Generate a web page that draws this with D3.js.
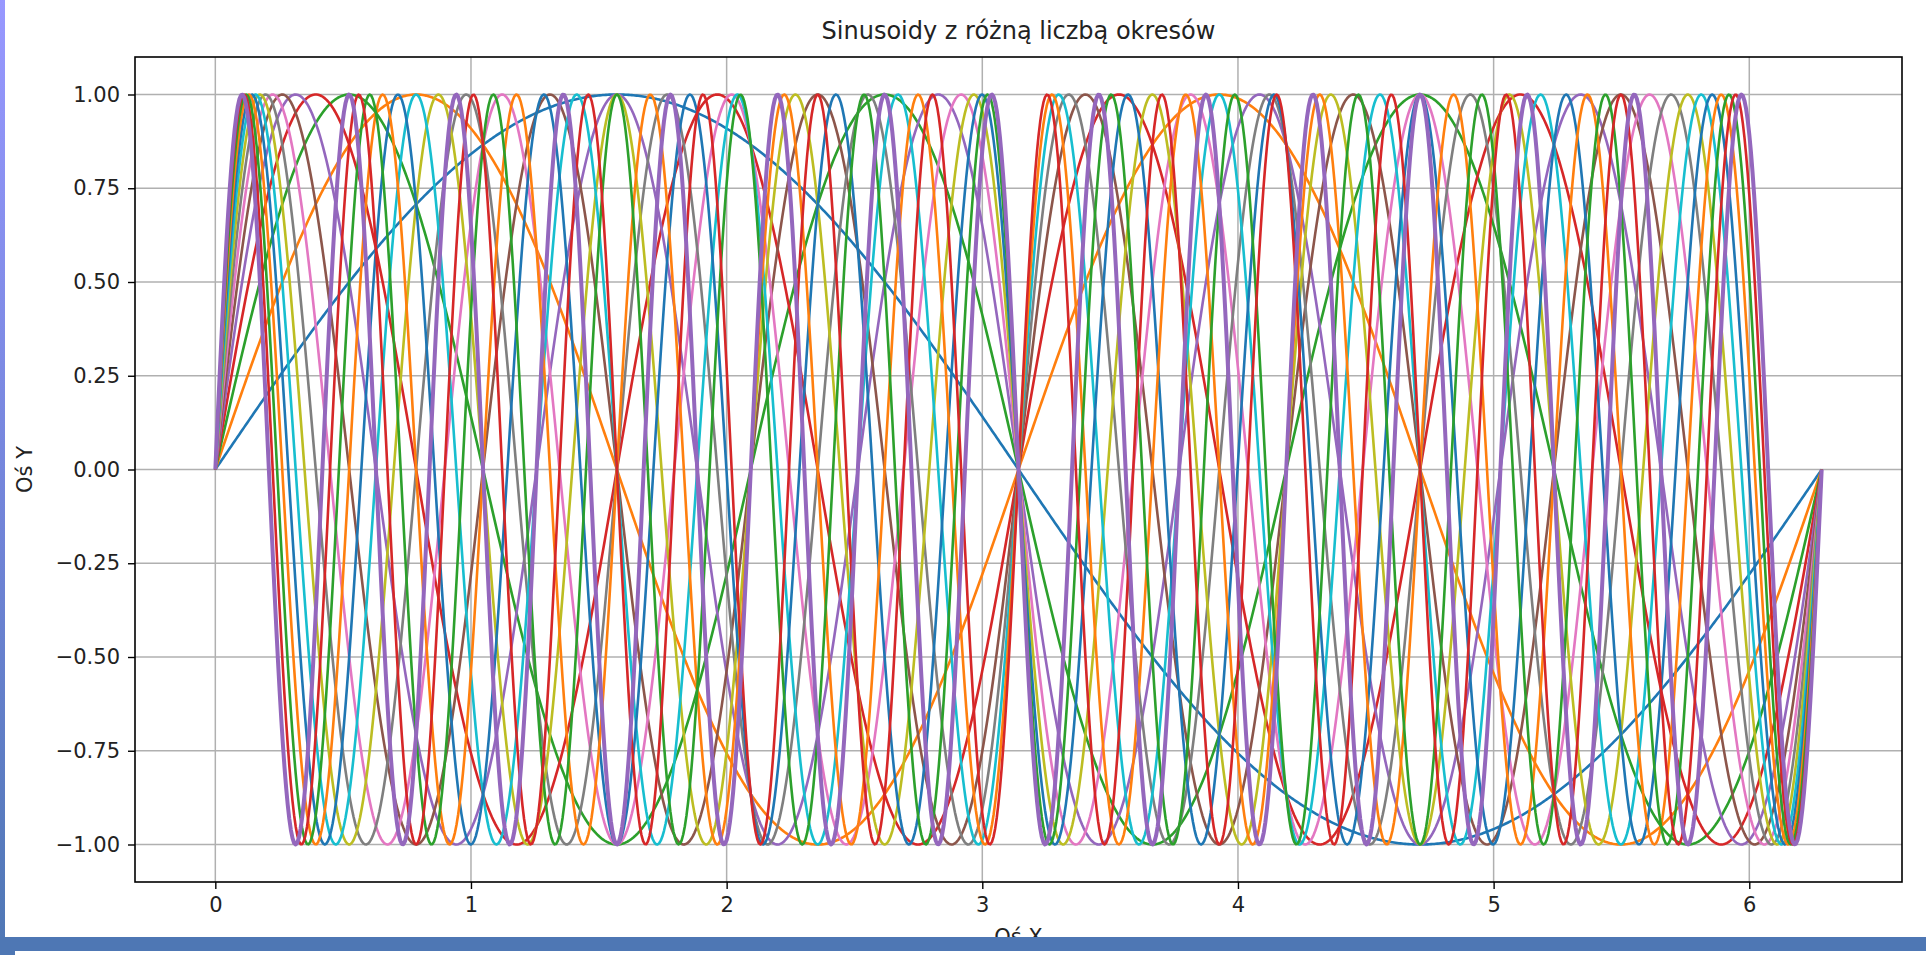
<!DOCTYPE html>
<html>
<head>
<meta charset="utf-8">
<script src="https://cdn.jsdelivr.net/npm/d3@7"></script>
<style>
  html, body { margin: 0; padding: 0; background: #fff; }
  svg { display: block; font-family: "DejaVu Sans", sans-serif; }
</style>
</head>
<body>
<div id="chart"></div>
<script>
// number of periods of each sinusoid, in plotting order
var periods = [1, 2, 3, 4, 5, 6, 7, 8, 9, 10, 11, 12, 13, 14, 15];
// samples along x between 0 and 2*pi
var sampleCount = 1000;
var xTickValues = [0, 1, 2, 3, 4, 5, 6];
var yTickValues = [-1, -0.75, -0.5, -0.25, 0, 0.25, 0.5, 0.75, 1];
var palette = ["#1f77b4", "#ff7f0e", "#2ca02c", "#d62728", "#9467bd",
               "#8c564b", "#e377c2", "#7f7f7f", "#bcbd22", "#17becf"];
var titleText = "Sinusoidy z różną liczbą okresów";
var xLabel = "Oś X";
var yLabel = "Oś Y";

var svgWidth = 1926;
var svgHeight = 955;

var margin = { top: 57, left: 135, right: 24, bottom: 73 };
var width = svgWidth - margin.left - margin.right;
var height = svgHeight - margin.top - margin.bottom;

var svg = d3.select("#chart")
  .append("svg")
  .attr("width", svgWidth)
  .attr("height", svgHeight);

var chartGroup = svg.append("g")
  .attr("transform", `translate(${margin.left}, ${margin.top})`);

// build the sampled x positions
var xs = d3.range(sampleCount).map(i => 2 * Math.PI * i / (sampleCount - 1));
var series = periods.map(k => xs.map(x => ({ x: x, y: Math.sin(k * x) })));

// scales with matplotlib-like 5% padding
var xPad = 2 * Math.PI * 0.05;
var xScale = d3.scaleLinear()
  .domain([-xPad, 2 * Math.PI + xPad])
  .range([0, width]);

var yScale = d3.scaleLinear()
  .domain([-1.1, 1.1])
  .range([height, 0]);

// grid
chartGroup.append("g")
  .selectAll("line")
  .data(xTickValues)
  .enter()
  .append("line")
  .attr("x1", d => xScale(d))
  .attr("x2", d => xScale(d))
  .attr("y1", 0)
  .attr("y2", height)
  .attr("stroke", "#b0b0b0")
  .attr("stroke-width", 1.5);

chartGroup.append("g")
  .selectAll("line")
  .data(yTickValues)
  .enter()
  .append("line")
  .attr("x1", 0)
  .attr("x2", width)
  .attr("y1", d => yScale(d))
  .attr("y2", d => yScale(d))
  .attr("stroke", "#b0b0b0")
  .attr("stroke-width", 1.5);

// lines
var line = d3.line()
  .x(d => xScale(d.x))
  .y(d => yScale(d.y));

chartGroup.append("g")
  .selectAll("path")
  .data(series)
  .enter()
  .append("path")
  .attr("d", line)
  .attr("fill", "none")
  .attr("stroke", (d, i) => palette[i % palette.length])
  .attr("stroke-width", (d, i) => i === series.length - 1 ? 4 : 2.6)
  .attr("stroke-linejoin", "round");

// axes
var fmtY = d3.format(".2f");
var xAxis = d3.axisBottom(xScale)
  .tickValues(xTickValues)
  .tickFormat(d3.format("d"))
  .tickSizeOuter(0)
  .tickSize(7)
  .tickPadding(8);

var yAxis = d3.axisLeft(yScale)
  .tickValues(yTickValues)
  .tickFormat(d => fmtY(d).replace("-", "\u2212"))
  .tickSizeOuter(0)
  .tickSize(7)
  .tickPadding(8);

var gx = chartGroup.append("g")
  .attr("transform", `translate(0, ${height})`)
  .call(xAxis);

var gy = chartGroup.append("g")
  .call(yAxis);

[gx, gy].forEach(function(g) {
  g.select(".domain").remove();
  g.selectAll("line").attr("stroke", "#000").attr("stroke-width", 1.4);
  g.selectAll("text")
    .attr("font-family", "DejaVu Sans, sans-serif")
    .attr("font-size", 21)
    .attr("fill", "#222");
});

// frame
chartGroup.append("rect")
  .attr("x", 0)
  .attr("y", 0)
  .attr("width", width)
  .attr("height", height)
  .attr("fill", "none")
  .attr("stroke", "#000")
  .attr("stroke-width", 1.6);

// title and labels
chartGroup.append("text")
  .attr("x", width / 2)
  .attr("y", -18)
  .attr("text-anchor", "middle")
  .attr("font-size", 24)
  .attr("fill", "#222")
  .text(titleText);

chartGroup.append("text")
  .attr("x", width / 2)
  .attr("y", height + 62)
  .attr("text-anchor", "middle")
  .attr("font-size", 21)
  .attr("fill", "#222")
  .text(xLabel);

chartGroup.append("text")
  .attr("transform", "rotate(-90)")
  .attr("x", -height / 2)
  .attr("y", -margin.left + 32)
  .attr("text-anchor", "middle")
  .attr("font-size", 21)
  .attr("fill", "#222")
  .text(yLabel);

// screenshot window edges
var grad = svg.append("defs").append("linearGradient")
  .attr("id", "edge")
  .attr("x1", 0).attr("y1", 0).attr("x2", 0).attr("y2", 1);
grad.append("stop").attr("offset", "0%").attr("stop-color", "#9898ff");
grad.append("stop").attr("offset", "55%").attr("stop-color", "#7184d8");
grad.append("stop").attr("offset", "100%").attr("stop-color", "#4e77b4");

svg.append("rect")
  .attr("x", 0).attr("y", 0)
  .attr("width", 5).attr("height", svgHeight)
  .attr("fill", "url(#edge)");

svg.append("rect")
  .attr("x", 0).attr("y", 937)
  .attr("width", svgWidth).attr("height", 14)
  .attr("fill", "#4e77b4");

svg.append("rect")
  .attr("x", 0).attr("y", 951)
  .attr("width", 15).attr("height", 4)
  .attr("fill", "#4e77b4");
</script>
</body>
</html>
